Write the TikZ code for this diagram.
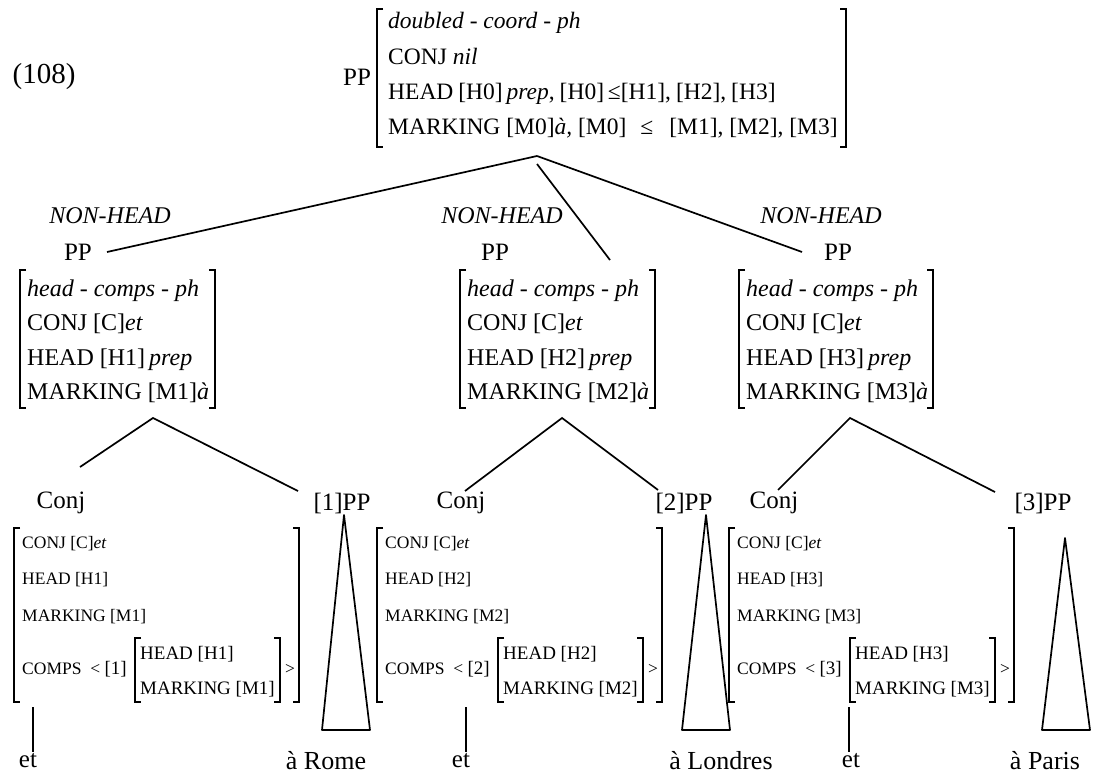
\documentclass[tikz,border=0pt]{standalone}
\usepackage{fontspec}
\setmainfont{Liberation Serif}
\newcommand\avmbrk[4]{%
  \draw[brkline] (#1+6,#2) -- (#1,#2) -- (#1,#4) -- (#1+6,#4);
  \draw[brkline] (#3-6,#2) -- (#3,#2) -- (#3,#4) -- (#3-6,#4);}
\newcommand\midavm[3]{% x0, x1, index
  \avmbrk{#1}{270}{#2}{408}
  \node[mid] (m#3a) at (#1+7,296) {\textit{head - comps - ph}};
  \node[mid] (m#3b) at (#1+7,330) {CONJ [C]\textit{et}};
  \node[mid] (m#3c) at (#1+7,365) {HEAD [H#3]\,\textit{prep}};
  \node[mid] (m#3d) at (#1+7,399) {MARKING [M#3]\textit{à}};}
\newcommand\botavm[2]{% x0, index
  \avmbrk{#1}{528}{#1+285}{702}
  \node[sm] (b#2a) at (#1+8,548) {CONJ [C]\textit{et}};
  \node[sm] (b#2b) at (#1+8,584) {HEAD [H#2]};
  \node[sm] (b#2c) at (#1+8,621) {MARKING [M#2]};
  \node[sm] (b#2d) at (#1+8,674) {COMPS\ \ < {\fontsize{19}{22}\selectfont[#2]}};
  \avmbrk{#1+121}{638}{#1+266}{702}
  \node[smi] (b#2e) at (#1+126,659) {HEAD [H#2]};
  \node[smi] (b#2f) at (#1+126,694) {MARKING [M#2]};
  \node[sm] (b#2g) at (#1+271,674) {>};}
\begin{document}
\begin{tikzpicture}[x=1pt,y=-1pt,
  lbl/.style={inner sep=0pt, font=\fontsize{25}{29}\selectfont},
  nh/.style={inner sep=0pt, font=\fontsize{24}{28}\selectfont\itshape},
  top/.style={inner sep=0pt, anchor=base west, font=\fontsize{23.5}{27}\selectfont},
  mid/.style={inner sep=0pt, anchor=base west, font=\fontsize{24}{28}\selectfont},
  sm/.style={inner sep=0pt, anchor=base west, font=\fontsize{17.5}{20}\selectfont},
  smi/.style={inner sep=0pt, anchor=base west, font=\fontsize{19}{22}\selectfont},
  brkline/.style={line width=1.3pt},
  edge/.style={line width=1.7pt},
  tri/.style={line width=1.7pt, line join=round}]
\useasboundingbox (0,0) rectangle (1098,778);
% top
\node[lbl, font=\fontsize{29}{33}\selectfont] (ex) at (44,77) {(108)};
\node[lbl] (pp0) at (357,77) {PP};
\avmbrk{377}{9}{846}{147}
\node[top] (t1) at (388,29) {\textit{doubled - coord - ph}};
\node[top] (t2) at (388,65) {CONJ \textit{nil}};
\node[top] (t3) at (388,100) {\spaceskip=0.21em HEAD [H0]\,\textit{prep}, [H0]\,≤[H1], [H2], [H3]};
\node[top] (t4) at (388,135) {MARKING [M0]\textit{à,} [M0]\hspace{14pt}≤\hspace{16pt}[M1], [M2], [M3]};
\coordinate (apex0) at (537,156);
\coordinate (apex0b) at (537,164);
% second level
\node[nh] (nh1) at (110,216) {NON-HEAD};
\node[nh] (nh2) at (502,216) {NON-HEAD};
\node[nh] (nh3) at (821,216) {NON-HEAD};
\node[lbl] (pp1) at (78,252) {PP};
\node[lbl] (pp2) at (495,252) {PP};
\node[lbl] (pp3) at (838,252) {PP};
\coordinate (e1) at (107,252);
\coordinate (e2) at (610,260);
\coordinate (e3) at (802,252);
\draw[edge] (apex0) -- (e1);
\draw[edge] (apex0b) -- (e2);
\draw[edge] (apex0) -- (e3);
\midavm{20}{215}{1}
\midavm{460}{655}{2}
\midavm{739}{933}{3}
\coordinate (a1) at (153,418);
\coordinate (a2) at (562,418);
\coordinate (a3) at (850,418);
% third level labels
\node[lbl] (cj1) at (61,503) {Conj};
\node[lbl] (cj2) at (461,503) {Conj};
\node[lbl] (cj3) at (774,503) {Conj};
\node[lbl] (xp1) at (342,503) {[1]PP};
\node[lbl] (xp2) at (684,503) {[2]PP};
\node[lbl] (xp3) at (1043,503) {[3]PP};
\coordinate (l1) at (80,467);
\coordinate (r1) at (298,491);
\coordinate (l2) at (465,491);
\coordinate (r2) at (658,490);
\coordinate (l3) at (778,490);
\coordinate (r3) at (995,492);
\draw[edge] (l1) -- (a1) -- (r1);
\draw[edge] (l2) -- (a2) -- (r2);
\draw[edge] (l3) -- (a3) -- (r3);
% bottom avms
\botavm{14}{1}
\botavm{377}{2}
\botavm{729}{3}
% words
\node[lbl] (w1) at (28,761) {et};
\node[lbl] (w2) at (461,761) {et};
\node[lbl] (w3) at (851,761) {et};
\node[lbl, font=\fontsize{26}{30}\selectfont] (r1w) at (326,761) {à Rome};
\node[lbl, font=\fontsize{26}{30}\selectfont] (r2w) at (721,761) {à Londres};
\node[lbl, font=\fontsize{26}{30}\selectfont] (r3w) at (1045,761) {à Paris};
\coordinate (s1) at (33,707);
\coordinate (s2) at (466,707);
\coordinate (s3) at (849,707);
\draw[edge] (s1) -- ([yshift=2pt]s1 |- w1.north);
\draw[edge] (s2) -- ([yshift=2pt]s2 |- w2.north);
\draw[edge] (s3) -- ([yshift=2pt]s3 |- w3.north);
% triangles
\coordinate (tp1) at (344,515);
\coordinate (tp2) at (706,515);
\coordinate (tp3) at (1065,538);
\draw[tri] (tp1) -- (322,730) -- (370,730) -- cycle;
\draw[tri] (tp2) -- (682,730) -- (730,730) -- cycle;
\draw[tri] (tp3) -- (1042,730) -- (1090,730) -- cycle;
\end{tikzpicture}
\end{document}
